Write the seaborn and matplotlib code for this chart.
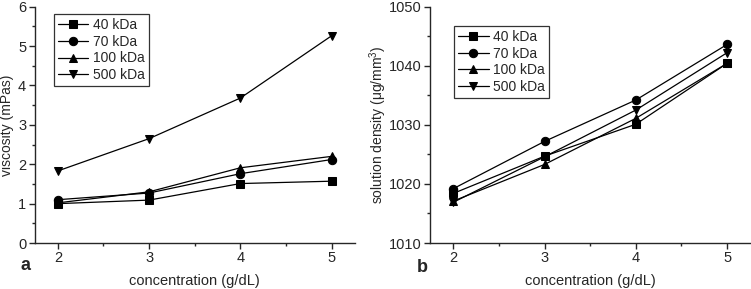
import pandas as pd
import numpy as np
import seaborn as sns
import matplotlib.pyplot as plt
from matplotlib.ticker import MultipleLocator

# Data
conc = [2, 3, 4, 5]
series = ["40 kDa", "70 kDa", "100 kDa", "500 kDa"]

visc_40 = [1.00, 1.09, 1.51, 1.57]
visc_70 = [1.10, 1.27, 1.76, 2.12]
visc_100 = [1.02, 1.30, 1.91, 2.20]
visc_500 = [1.83, 2.65, 3.68, 5.26]

dens_40 = [1018.4, 1024.7, 1030.1, 1040.4]
dens_70 = [1019.2, 1027.2, 1034.2, 1043.6]
dens_100 = [1017.1, 1023.3, 1031.1, 1040.4]
dens_500 = [1016.9, 1024.6, 1032.5, 1042.2]

# Long-form tables for seaborn
visc_df = pd.DataFrame({
    "conc": conc * 4,
    "value": visc_40 + visc_70 + visc_100 + visc_500,
    "MW": np.repeat(series, len(conc)),
})
dens_df = pd.DataFrame({
    "conc": conc * 4,
    "value": dens_40 + dens_70 + dens_100 + dens_500,
    "MW": np.repeat(series, len(conc)),
})

sns.set_style("ticks")
plt.rcParams["font.family"] = ["Liberation Sans", "DejaVu Sans"]
plt.rcParams["mathtext.fontset"] = "custom"
plt.rcParams["mathtext.rm"] = "Liberation Sans"
plt.rcParams["axes.linewidth"] = 1.0

fig = plt.figure(figsize=(7.51, 2.89), dpi=100)
ax1 = fig.add_axes([0.046, 0.159, 0.4265, 0.818])
ax2 = fig.add_axes([0.5726, 0.159, 0.4265, 0.818])

markers = ["s", "o", "^", "v"]
palette = ["black"] * 4

for ax, df in [(ax1, visc_df), (ax2, dens_df)]:
    sns.lineplot(
        data=df, x="conc", y="value", hue="MW", style="MW",
        hue_order=series, style_order=series,
        markers=markers, dashes=False, palette=palette,
        markersize=6, markeredgecolor="black", linewidth=0.9, ax=ax,
    )
    sns.despine(ax=ax)
    ax.set_xlim(1.745, 5.255)
    ax.xaxis.set_major_locator(MultipleLocator(1))
    ax.xaxis.set_minor_locator(MultipleLocator(0.5))
    ax.tick_params(which="major", direction="out", length=4, width=1, labelsize=10.5, pad=2)
    ax.tick_params(which="minor", direction="out", length=2.5, width=1)
    ax.set_xlabel("concentration (g/dL)", fontsize=10.5, labelpad=6)
    leg = ax.legend(
        loc="upper left", bbox_to_anchor=(0.06, 0.97) if ax is ax1 else (0.075, 0.92),
        frameon=True, fancybox=False, edgecolor="black", fontsize=10,
        handlelength=2.2, labelspacing=0.2, borderpad=0.3, handletextpad=0.3,
        borderaxespad=0,
    )
    leg.get_frame().set_linewidth(0.9)

ax1.set_ylim(0, 6)
ax1.yaxis.set_major_locator(MultipleLocator(1))
ax1.yaxis.set_minor_locator(MultipleLocator(0.5))
ax1.set_ylabel("viscosity (mPas)", fontsize=10)
ax1.yaxis.set_label_coords(-0.064, 0.5)

ax2.set_ylim(1010, 1050)
ax2.yaxis.set_major_locator(MultipleLocator(10))
ax2.yaxis.set_minor_locator(MultipleLocator(5))
ax2.set_ylabel("solution density (μg/mm$^3$)", fontsize=10)
ax2.yaxis.set_label_coords(-0.128, 0.5)

fig.text(25 / 751, 1 - 265 / 289, "a", fontsize=13, fontweight="bold", ha="center", va="center")
fig.text(422 / 751, 1 - 267 / 289, "b", fontsize=13, fontweight="bold", ha="center", va="center")

fig.savefig("out.png", dpi=100)
